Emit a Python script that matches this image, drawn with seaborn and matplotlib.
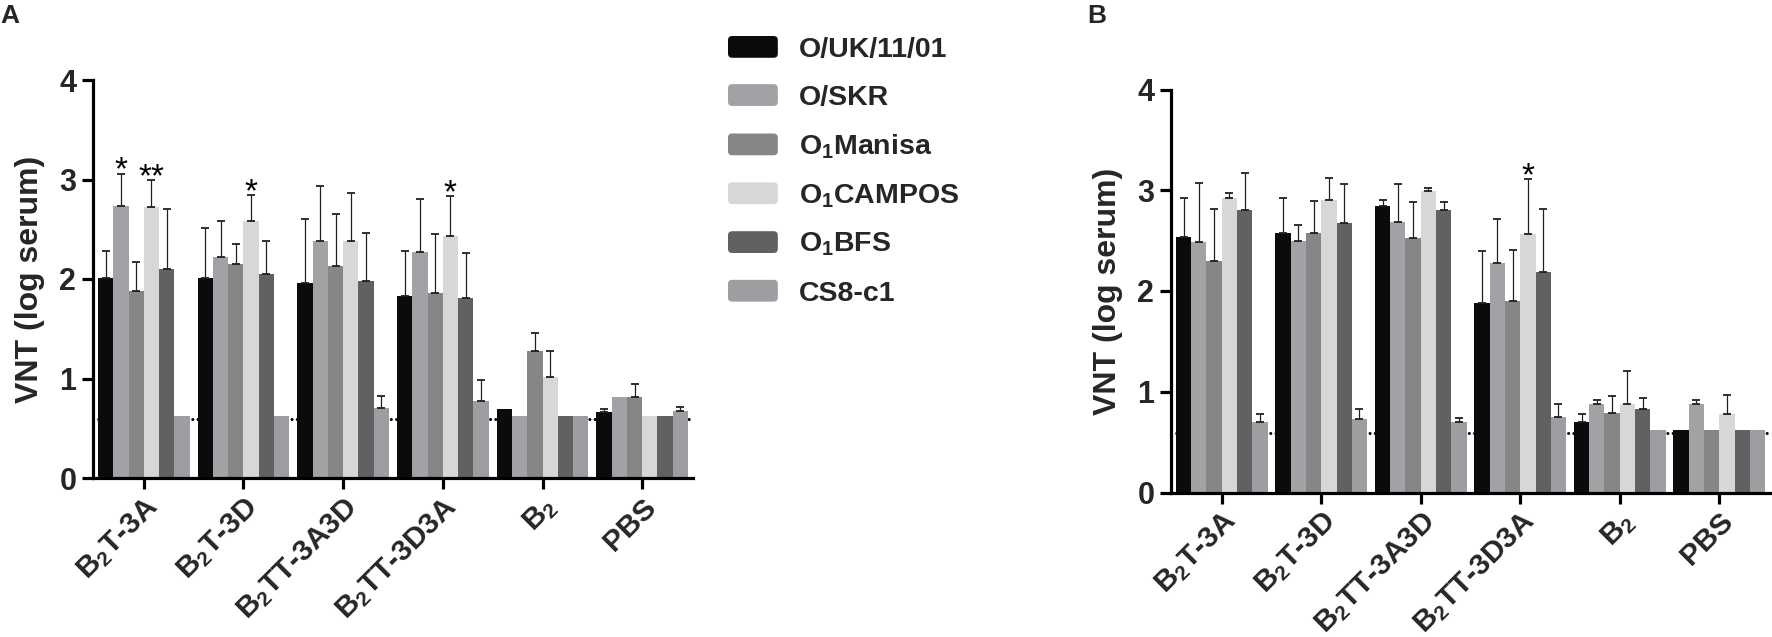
import numpy as np
import pandas as pd
import matplotlib
matplotlib.use("Agg")
import matplotlib.pyplot as plt
import seaborn as sns
from matplotlib.patches import FancyBboxPatch
from matplotlib.legend_handler import HandlerPatch

# ---------------- data ----------------
groups = [r"B$_\mathrm{2}$T-3A", r"B$_\mathrm{2}$T-3D", r"B$_\mathrm{2}$TT-3A3D",
          r"B$_\mathrm{2}$TT-3D3A", r"B$_\mathrm{2}$", "PBS"]
strains = ["O/UK/11/01", "O/SKR", r"O$_\mathbf{1}$Manisa", r"O$_\mathbf{1}$CAMPOS",
           r"O$_\mathbf{1}$BFS", "CS8-c1"]
colors = ["#0a0c0c", "#a2a2a6", "#858686", "#d6d8d8", "#606161", "#9e9ea2"]

# Panel A values / upper error
a_uk = [2.01, 2.01, 1.96, 1.83, 0.69, 0.66]
a_skr = [2.73, 2.22, 2.38, 2.27, 0.62, 0.81]
a_manisa = [1.88, 2.15, 2.13, 1.86, 1.28, 0.81]
a_campos = [2.72, 2.58, 2.38, 2.43, 1.02, 0.62]
a_bfs = [2.10, 2.05, 1.98, 1.81, 0.62, 0.62]
a_cs8 = [0.62, 0.62, 0.70, 0.77, 0.62, 0.67]
a_err_uk = [0.27, 0.50, 0.64, 0.45, 0.00, 0.03]
a_err_skr = [0.33, 0.36, 0.55, 0.53, 0.00, 0.00]
a_err_manisa = [0.29, 0.20, 0.52, 0.59, 0.18, 0.13]
a_err_campos = [0.27, 0.26, 0.48, 0.40, 0.26, 0.00]
a_err_bfs = [0.60, 0.33, 0.48, 0.45, 0.00, 0.00]
a_err_cs8 = [0.00, 0.00, 0.12, 0.21, 0.00, 0.04]
a_stars = [(0, 1, "*"), (0, 3, "**"), (1, 3, "*"), (3, 3, "*")]

# Panel B values / upper error
b_uk = [2.54, 2.58, 2.84, 1.88, 0.70, 0.62]
b_skr = [2.49, 2.50, 2.68, 2.28, 0.88, 0.88]
b_manisa = [2.30, 2.58, 2.53, 1.90, 0.79, 0.62]
b_campos = [2.92, 2.90, 2.99, 2.57, 0.88, 0.78]
b_bfs = [2.80, 2.67, 2.80, 2.19, 0.83, 0.62]
b_cs8 = [0.70, 0.73, 0.70, 0.75, 0.62, 0.62]
b_err_uk = [0.38, 0.34, 0.06, 0.52, 0.08, 0.00]
b_err_skr = [0.58, 0.16, 0.38, 0.43, 0.04, 0.04]
b_err_manisa = [0.51, 0.31, 0.35, 0.51, 0.17, 0.00]
b_err_campos = [0.05, 0.22, 0.03, 0.54, 0.33, 0.19]
b_err_bfs = [0.37, 0.39, 0.08, 0.62, 0.11, 0.00]
b_err_cs8 = [0.08, 0.10, 0.04, 0.13, 0.00, 0.00]
b_stars = [(3, 3, "*")]

detection_limit = 0.59
yticks = [0, 1, 2, 3, 4]

# ---------------- style ----------------
sns.set_style("ticks")
plt.rcParams["font.family"] = ["Liberation Sans", "DejaVu Sans"]
plt.rcParams["font.weight"] = "bold"
plt.rcParams["mathtext.fontset"] = "custom"
plt.rcParams["mathtext.rm"] = "Liberation Sans"
plt.rcParams["mathtext.bf"] = "Liberation Sans:bold"
plt.rcParams["mathtext.it"] = "Liberation Sans:italic"

W, H = 1772, 637
fig = plt.figure(figsize=(W / 100, H / 100), dpi=100)


def draw(ax, vals, errs, stars):
    rows = []
    for s, v in zip(strains, vals):
        for g, val in zip(groups, v):
            rows.append({"group": g, "strain": s, "value": val})
    df = pd.DataFrame(rows)
    ax.axhline(detection_limit, color="black", linestyle=(0, (0.01, 1.7)),
               linewidth=2.2, dash_capstyle="round", zorder=1)
    sns.barplot(data=df, x="group", y="value", hue="strain", order=groups,
                hue_order=strains, palette=colors, width=0.92, saturation=1,
                linewidth=0, errorbar=None, legend=False, ax=ax, zorder=2)
    tops_all = []
    for cont, e in zip(ax.containers, errs):
        xs = np.array([b.get_x() + b.get_width() / 2 for b in cont])
        tops = np.array([b.get_height() for b in cont])
        e = np.array(e)
        m = e > 0
        ax.errorbar(xs[m], tops[m], yerr=[np.zeros(m.sum()), e[m]], fmt="none",
                    ecolor="#202020", elinewidth=0.9, capsize=3, capthick=1.3,
                    zorder=3)
        tops_all.append((xs, tops + e))
    for gi, si, txt in stars:
        xs, et = tops_all[si]
        ax.text(xs[gi], et[gi] - 0.06, txt, ha="center", va="baseline",
                fontsize=24, fontweight="normal", color="black", zorder=4)
    ax.set_xlim(-0.51, 5.51)
    ax.set_ylim(0, 4)
    ax.set_yticks(yticks)
    ax.set_xlabel("")
    ax.set_ylabel("VNT (log serum)", fontsize=23, fontweight="bold", labelpad=10)
    sns.despine(ax=ax)
    for sp in ["left", "bottom"]:
        ax.spines[sp].set_linewidth(2.3)
        ax.spines[sp].set_color("black")
    ax.tick_params(axis="both", width=2.3, length=8, labelsize=22, color="black",
                   pad=4)
    ax.tick_params(axis="x", pad=2.5)
    ax.set_xticks(range(len(groups)))
    ax.set_xticklabels(groups, rotation=45, ha="right", rotation_mode="anchor",
                       fontweight="bold", fontsize=21.5)
    for lab in ax.get_yticklabels():
        lab.set_fontweight("bold")


axA = fig.add_axes([93 / W, 159 / H, 600 / W, 398 / H])
draw(axA,
     [a_uk, a_skr, a_manisa, a_campos, a_bfs, a_cs8],
     [a_err_uk, a_err_skr, a_err_manisa, a_err_campos, a_err_bfs, a_err_cs8],
     a_stars)

axB = fig.add_axes([1171 / W, 144.5 / H, 599 / W, 403 / H])
draw(axB,
     [b_uk, b_skr, b_manisa, b_campos, b_bfs, b_cs8],
     [b_err_uk, b_err_skr, b_err_manisa, b_err_campos, b_err_bfs, b_err_cs8],
     b_stars)


class RoundHandler(HandlerPatch):
    def create_artists(self, legend, orig_handle, xdescent, ydescent, width,
                       height, fontsize, trans):
        p = FancyBboxPatch((-xdescent, -ydescent), width, height,
                           boxstyle="round,pad=0,rounding_size=3",
                           facecolor=orig_handle.get_facecolor(),
                           edgecolor="none", transform=trans)
        return [p]


handles = [plt.Rectangle((0, 0), 1, 1, facecolor=c) for c in colors]
fig.legend(handles, strains, loc="upper left",
           bbox_to_anchor=(728 / W, 1 - 36 / H), frameon=False, borderpad=0,
           borderaxespad=0, handlelength=1.75, handleheight=0.8,
           handletextpad=0.75, labelspacing=0.75,
           prop={"size": 20.5, "weight": "bold"},
           handler_map={plt.Rectangle: RoundHandler()})

fig.text(0.5 / W, 1 - 16 / H, "A", fontsize=19, fontweight="bold", va="center",
         ha="left")
fig.text(1087 / W, 1 - 16 / H, "B", fontsize=19, fontweight="bold", va="center",
         ha="left")

fig.savefig("out.png", dpi=100)
